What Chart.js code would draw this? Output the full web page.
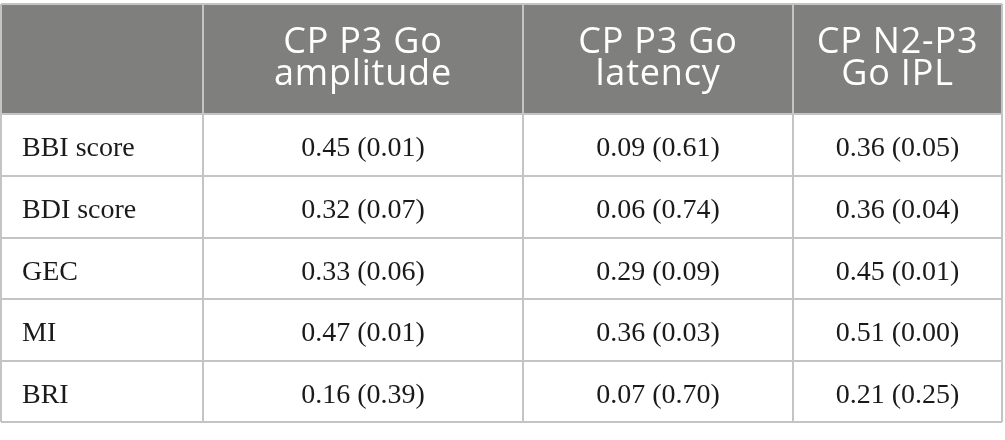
<!DOCTYPE html>
<html>
<head>
<meta charset="utf-8">
<script src="https://cdn.jsdelivr.net/npm/chart.js@4"></script>
<style>
  body { margin: 0; background: #ffffff; }
  canvas { display: block; }
</style>
</head>
<body>
<canvas id="TablaCorrelaciones" width="1005" height="440"></canvas>
<script>
// datos de la tabla
var rowLabels = ['BBI score', 'BDI score', 'GEC', 'MI', 'BRI'];
var columnHeaders = [
  ['CP P3 Go', 'amplitude'],
  ['CP P3 Go', 'latency'],
  ['CP N2-P3', 'Go IPL']
];
var amplitudeR = [0.45, 0.32, 0.33, 0.47, 0.16];
var amplitudeP = [0.01, 0.07, 0.06, 0.01, 0.39];
var latencyR = [0.09, 0.06, 0.29, 0.36, 0.07];
var latencyP = [0.61, 0.74, 0.09, 0.03, 0.70];
var iplR = [0.36, 0.36, 0.45, 0.51, 0.21];
var iplP = [0.05, 0.04, 0.01, 0.00, 0.25];

// layout (bordes de columnas y filas en unidades de escala)
var colEdges = [1, 203, 523, 793, 1002];
var rowEdges = [4, 114, 176, 238, 299, 361, 422];

var seriesR = [amplitudeR, latencyR, iplR];
var seriesP = [amplitudeP, latencyP, iplP];

function mid(edges, i) { return (edges[i] + edges[i + 1]) / 2; }

// un punto por celda (sin radio), el texto se dibuja en su posicion
var cellPoints = [];
var cellTexts = [];
rowLabels.forEach(function (lab, r) {
  cellPoints.push({ x: colEdges[0] + 21, y: mid(rowEdges, r + 1) });
  cellTexts.push({ text: lab, align: 'left' });
  for (var c = 0; c < seriesR.length; c++) {
    cellPoints.push({ x: mid(colEdges, c + 1), y: mid(rowEdges, r + 1) });
    cellTexts.push({ text: seriesR[c][r].toFixed(2) + ' (' + seriesP[c][r].toFixed(2) + ')', align: 'center' });
  }
});
var headerPoints = columnHeaders.map(function (h, c) {
  return { x: mid(colEdges, c + 1), y: mid(rowEdges, 0) };
});

var tablePlugin = {
  id: 'tablePlugin',
  beforeDraw: function (chart) {
    var ctx = chart.ctx;
    var xs = chart.scales.x, ys = chart.scales.y;
    var x0 = xs.getPixelForValue(colEdges[0]);
    var x1 = xs.getPixelForValue(colEdges[colEdges.length - 1]);
    var y0 = ys.getPixelForValue(rowEdges[0]);
    var y1 = ys.getPixelForValue(rowEdges[1]);
    ctx.save();
    ctx.fillStyle = '#7f807e';
    ctx.fillRect(x0, y0, x1 - x0, y1 - y0);
    ctx.restore();
  },
  afterDatasetsDraw: function (chart) {
    var ctx = chart.ctx;
    ctx.save();
    // cabecera
    var hm = chart.getDatasetMeta(0);
    ctx.fillStyle = '#ffffff';
    ctx.font = '36px "Open Sans"';
    ctx.textAlign = 'center';
    ctx.textBaseline = 'alphabetic';
    if ('letterSpacing' in ctx) ctx.letterSpacing = '0.8px';
    hm.data.forEach(function (el, i) {
      ctx.fillText(columnHeaders[i][0], el.x, el.y - 6);
      ctx.fillText(columnHeaders[i][1], el.x, el.y + 26);
    });
    if ('letterSpacing' in ctx) ctx.letterSpacing = '0px';
    // cuerpo
    var bm = chart.getDatasetMeta(1);
    ctx.fillStyle = '#1a1a1a';
    ctx.font = '28px "Liberation Serif"';
    bm.data.forEach(function (el, i) {
      ctx.textAlign = cellTexts[i].align;
      ctx.fillText(cellTexts[i].text, el.x, el.y + 11);
    });
    ctx.restore();
  }
};

function edgeTicks(edges) {
  return function (scale) {
    scale.ticks = edges.map(function (v) { return { value: v }; });
  };
}

var ctx1 = document.getElementById('TablaCorrelaciones').getContext('2d');
var TablaCorrelaciones = new Chart(ctx1, {
  type: 'scatter',
  data: {
    datasets: [
      { data: headerPoints, pointRadius: 0 },
      { data: cellPoints, pointRadius: 0 }
    ]
  },
  options: {
    responsive: false,
    animation: false,
    layout: { padding: { left: 1, right: 3, top: 4, bottom: 18 } },
    plugins: { legend: { display: false }, tooltip: { enabled: false } },
    scales: {
      x: {
        type: 'linear', min: colEdges[0], max: colEdges[colEdges.length - 1],
        afterBuildTicks: edgeTicks(colEdges),
        ticks: { display: false },
        border: { display: false },
        grid: { color: '#c4c4c4', lineWidth: 2, drawTicks: false }
      },
      y: {
        type: 'linear', min: rowEdges[0], max: rowEdges[rowEdges.length - 1], reverse: true,
        afterBuildTicks: edgeTicks(rowEdges),
        ticks: { display: false },
        border: { display: false },
        grid: { color: '#c4c4c4', lineWidth: 2, drawTicks: false }
      }
    }
  },
  plugins: [tablePlugin]
});
</script>
</body>
</html>
